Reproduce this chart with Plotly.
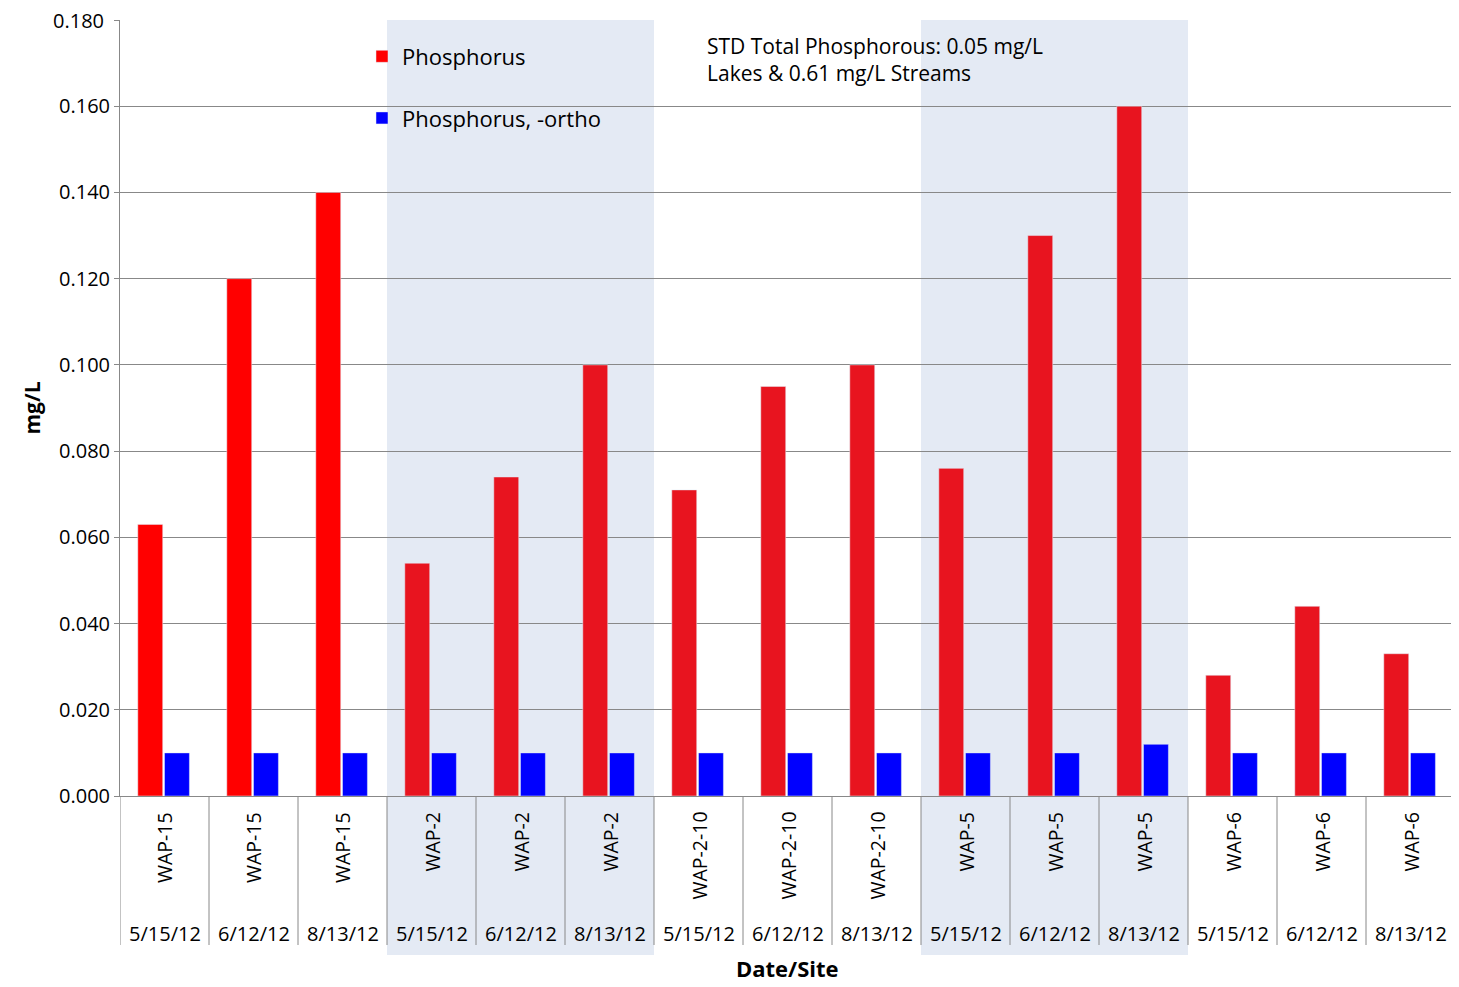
import plotly.graph_objects as go

sites = ["WAP-15"]*3 + ["WAP-2"]*3 + ["WAP-2-10"]*3 + ["WAP-5"]*3 + ["WAP-6"]*3
dates = ["5/15/12", "6/12/12", "8/13/12"]*5
phos = [0.063, 0.120, 0.140, 0.054, 0.074, 0.100, 0.071, 0.095, 0.100, 0.076, 0.130, 0.160, 0.028, 0.044, 0.033]
ortho = [0.010]*11 + [0.012] + [0.010]*3
red_cols = ["#FF0000"]*3 + ["#E8141F"]*12
y_max = 0.18

n = len(sites)
F = "Open Sans, Liberation Sans, sans-serif"
H = 776.0
W = 1335.0
fig = go.Figure()
fig.add_bar(x=[i+0.34 for i in range(n)], y=phos, width=0.28, marker_color=red_cols,
            name="Phosphorus", legendgroup="a")
fig.add_bar(x=[i+0.64 for i in range(n)], y=ortho, width=0.28, marker_color="#0000FF",
            name="Phosphorus, -ortho", legendgroup="b")

shapes = []
shapes.append(dict(type="rect", xref="paper", yref="paper", x0=(330-120)/W, x1=(650-120)/W,
                   y0=0.84, y1=0.99, fillcolor="white", line_width=0, layer="below"))
for a in (3, 9):
    shapes.append(dict(type="rect", xref="x", yref="paper", x0=a, x1=a+3, y0=-(955-796)/H, y1=1,
                       fillcolor="#E4EAF4", line_width=0, layer="below"))
for i in range(n+1):
    shapes.append(dict(type="line", xref="x", yref="paper", x0=i, x1=i, y0=0, y1=-(945-796)/H,
                       line=dict(color="#888", width=1)))
ann = []
for i in range(n):
    ann.append(dict(x=i+0.5, y=-(810-796)/H, xref="x", yref="paper", text=sites[i], textangle=-90,
                    showarrow=False, yanchor="top", font=dict(size=19.5, family=F, color="black")))
    ann.append(dict(x=i+0.5, y=-(933-796)/H, xref="x", yref="paper", text=dates[i],
                    showarrow=False, yanchor="middle", font=dict(size=20, family=F, color="black")))
ann.append(dict(x=0.5, y=-(968-796)/H, xref="paper", yref="paper", text="<b>Date/Site</b>",
                showarrow=False, yanchor="middle", font=dict(size=22, family=F, color="black")))
ann.append(dict(x=0, y=y_max, xref="paper", yref="y", text=f"{y_max:.3f}", xanchor="right",
                xshift=-14, showarrow=False, yanchor="middle",
                font=dict(size=20, family=F, color="black")))
ann.append(dict(x=(705-120)/W, y=1-(30-20)/H, xref="paper", yref="paper", xanchor="left", yanchor="top",
                align="left", showarrow=False,
                text="STD Total Phosphorous: 0.05 mg/L<br>Lakes & 0.61 mg/L Streams",
                font=dict(size=21, family=F, color="black")))
fig.update_layout(
    width=1451, height=987, plot_bgcolor="white", paper_bgcolor="white",
    margin=dict(l=112, r=4, t=12, b=199), barmode="overlay", shapes=shapes, annotations=ann,
    font=dict(family=F, color="black"),
    legend=dict(x=(362-120)/W, y=0.98, xanchor="left", yanchor="top", bgcolor="rgba(0,0,0,0)",
                font=dict(size=22, family=F), tracegroupgap=30, itemwidth=30),
    xaxis=dict(range=[0, n], showticklabels=False, showgrid=False, showline=True, linecolor="#888"),
    yaxis=dict(range=[0, y_max], dtick=0.02, tickformat=".3f", showgrid=True, gridcolor="#888",
               showline=True, linecolor="#888", ticks="outside", ticklen=5, tickcolor="#888",
               tickfont=dict(size=20), zeroline=False,
               title=dict(text="<b>mg/L</b>", font=dict(size=21), standoff=12)),
)
fig.write_html("out.html")
